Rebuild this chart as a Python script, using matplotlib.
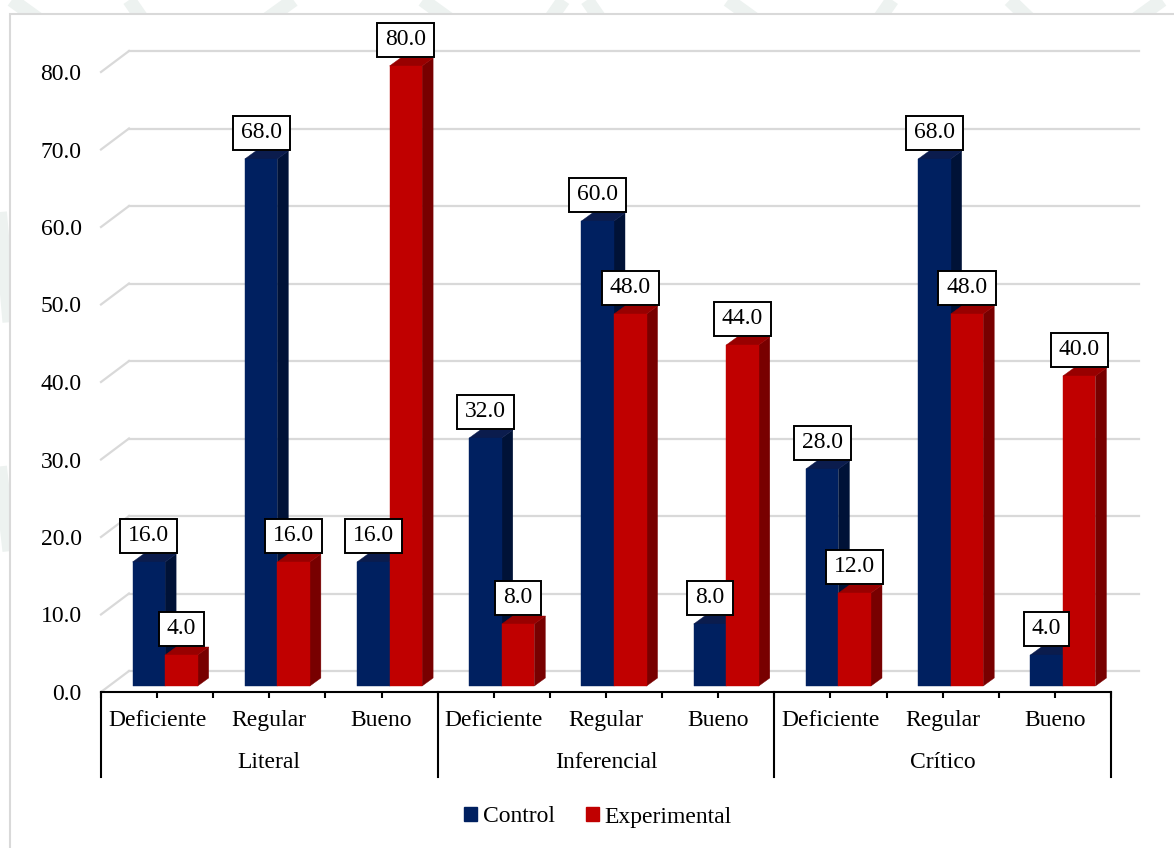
import numpy as np
import matplotlib
matplotlib.use("Agg")
import matplotlib.pyplot as plt
from matplotlib.patches import Polygon, Patch, Rectangle
from matplotlib.path import Path

plt.rcParams['font.family'] = ['Liberation Serif', 'DejaVu Serif']

niveles = ['Deficiente', 'Regular', 'Bueno'] * 3
dimensiones = ['Literal', 'Inferencial', 'Crítico']
control = [16.0, 68.0, 16.0, 32.0, 60.0, 8.0, 28.0, 68.0, 4.0]
experimental = [4.0, 16.0, 80.0, 8.0, 48.0, 44.0, 12.0, 48.0, 40.0]
y_ticks = np.arange(0, 81, 10)

W, H = 1174, 848
FS = 17
BLUE = ('#002060', '#001237', '#0b1c4d')
RED = ('#c00000', '#780000', '#980000')
GRID = '#d9d9d9'
PAD_X, PAD_Y = 0.34, 0.28


def label_box(x0, y0, width, height, mutation_size):
    px = PAD_X * mutation_size
    py = PAD_Y * mutation_size
    verts = [(x0 - px, y0 - py), (x0 + width + px, y0 - py),
             (x0 + width + px, y0 + height + py), (x0 - px, y0 + height + py),
             (x0 - px, y0 - py)]
    return Path(verts, closed=True)


def bar3d(ax, left, width, value, colors, off, depth):
    fx, fy = off
    dx, dy = depth
    x0, x1 = left + fx, left + width + fx
    y0, y1 = fy, value + fy
    front = [(x0, y0), (x1, y0), (x1, y1), (x0, y1)]
    side = [(x1, y0), (x1 + dx, y0 + dy), (x1 + dx, y1 + dy), (x1, y1)]
    top = [(x0, y1), (x1, y1), (x1 + dx, y1 + dy), (x0 + dx, y1 + dy)]
    for pts, c in ((side, colors[1]), (top, colors[2]), (front, colors[0])):
        ax.add_patch(Polygon(pts, closed=True, facecolor=c, edgecolor=c,
                             linewidth=0.3, clip_on=False, zorder=3))


fig = plt.figure(figsize=(W / 100, H / 100), dpi=100)

# faint background pattern around the chart frame
wm = '#edf2f0'
for xs, ys in [((0.01, 0.05), (1.0, 0.96)), ((0.11, 0.13), (1.0, 0.96)),
               ((0.21, 0.25), (0.96, 1.0)), ((0.36, 0.40), (1.0, 0.96)),
               ((0.46, 0.48), (0.96, 1.0)), ((0.52, 0.50), (0.96, 1.0)),
               ((0.62, 0.66), (1.0, 0.96)), ((0.74, 0.76), (0.96, 1.0)),
               ((0.86, 0.89), (1.0, 0.96)), ((0.95, 0.99), (0.96, 1.0)),
               ((0.0, 0.008), (0.75, 0.62)), ((0.0, 0.008), (0.45, 0.35))]:
    fig.add_artist(plt.Line2D(xs, ys, color=wm, lw=10, solid_capstyle='butt', zorder=0))

# chart frame
fig.add_artist(Rectangle((10 / W, -0.05), 1.2, 1 - 14 / H + 0.05,
                         facecolor='white', edgecolor=GRID, lw=1.5, zorder=1))

ax = fig.add_axes([101 / W, (H - 692) / H, 1010 / W, 620 / H])
ax.set_zorder(2)
ax.set_xlim(-0.5, 8.5)
ax.set_ylim(0, 80)
ax.patch.set_visible(False)
for s in ('left', 'right', 'top'):
    ax.spines[s].set_visible(False)
ax.spines['bottom'].set_linewidth(1.5)
ax.spines['bottom'].set_zorder(5)

# pixel offsets expressed in data units
sx = ax.bbox.width / 9.0
sy = ax.bbox.height / 80.0
floor = (28 / sx, 21 / sy)
bar_off = (8 / sx, 6 / sy)
bar_depth = (11 / sx, 8 / sy)

# gridlines on the back wall with their slanted side edge
for v in y_ticks:
    ax.plot([-0.5, -0.5 + floor[0]], [v, v + floor[1]], color=GRID, lw=1.6,
            clip_on=False, zorder=1)
    ax.plot([-0.5 + floor[0], 8.5 + floor[0]], [v + floor[1], v + floor[1]],
            color=GRID, lw=1.6, clip_on=False, zorder=1)

bw = 0.29
x = np.arange(len(niveles))
lift = 6 + 9 + PAD_Y * FS * 100 / 72
for i in x:
    for left, val, cols in ((i - bw, control[i], BLUE), (i, experimental[i], RED)):
        bar3d(ax, left, bw, val, cols, bar_off, bar_depth)
        ax.annotate(f'{val:.1f}', xy=(left + bw / 2, val), xytext=(8, lift),
                    textcoords='offset pixels', ha='center', va='bottom', fontsize=FS,
                    bbox=dict(boxstyle=label_box, facecolor='white', edgecolor='black',
                              linewidth=1.4), zorder=6, annotation_clip=False)

ax.set_yticks(y_ticks)
ax.set_yticklabels([f'{v:.1f}' for v in y_ticks], fontsize=FS)
ax.tick_params(axis='y', length=0, pad=14)

ax.set_xticks(x)
ax.set_xticklabels(niveles, fontsize=FS)
ax.set_xticks(np.arange(-0.5, 9, 1.0), minor=True)
ax.tick_params(axis='x', which='both', length=4, width=1.5, direction='out', color='black')
ax.tick_params(axis='x', which='major', pad=9)

tr = ax.get_xaxis_transform()
for g, name in enumerate(dimensiones):
    ax.text(3 * g + 1, -71 / 620, name, transform=tr, ha='center', va='center', fontsize=FS)
for b in np.arange(-0.5, 9, 3.0):
    ax.plot([b, b], [0, -85 / 620], transform=tr, color='black', lw=1.5, clip_on=False)

handles = [Patch(facecolor=BLUE[0], edgecolor=BLUE[0], label='Control'),
           Patch(facecolor=RED[0], edgecolor=RED[0], label='Experimental')]
leg = fig.legend(handles=handles, loc='center', bbox_to_anchor=(598 / W, 1 - 817 / H), ncol=2,
                 frameon=False, fontsize=FS, handlelength=0.55, handleheight=0.55,
                 handletextpad=0.25, columnspacing=1.3)
leg.set_zorder(3)

fig.savefig('out.png', dpi=100)
